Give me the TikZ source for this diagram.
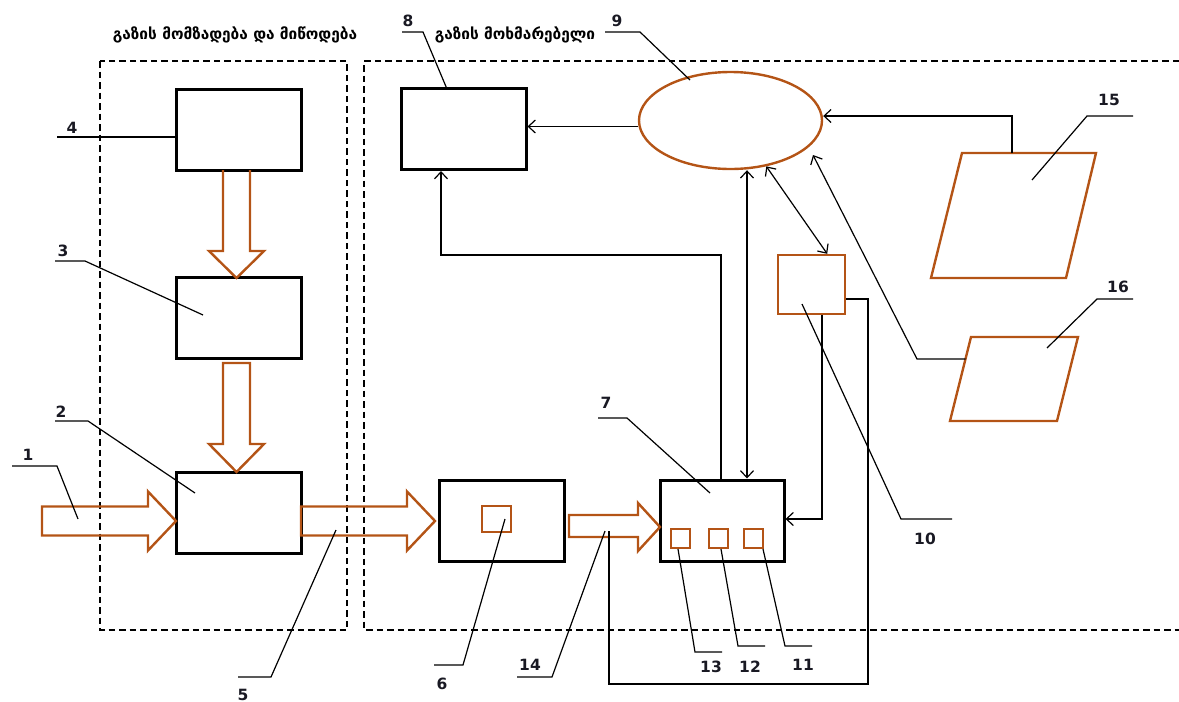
\documentclass[tikz,border=0pt]{standalone}
\usepackage{fontspec}
\setmainfont{DejaVu Sans}
\usetikzlibrary{arrows.meta,shapes.geometric,calc}
\definecolor{br}{RGB}{180,84,22}
\definecolor{ink}{RGB}{25,25,35}
\begin{document}
\begin{tikzpicture}[x=1pt,y=-1pt,
 blk/.style={draw,line width=3pt,inner sep=0,minimum width=125pt,minimum height=81pt},
 sqr/.style={draw=br,line width=2.4pt,inner sep=0,minimum size=19pt},
 con/.style={line width=1.2pt},
 arr/.style={con,-{Straight Barb[length=7pt,width=13pt]}},
 darr/.style={con,{Straight Barb[length=7pt,width=13pt]}-{Straight Barb[length=7pt,width=13pt]}},
 lead/.style={line width=1.2pt},
 num/.style={font=\bfseries\fontsize{15.5}{15.5}\selectfont,text=ink,inner sep=0},
 geo/.style={font=\bfseries\fontsize{15.4}{15.4}\selectfont,inner sep=0},
 bar/.style={draw=br,line width=2.4pt,line join=miter},
 zone/.style={draw,line width=1.5pt,dash pattern=on 6.5pt off 4pt}]
\useasboundingbox (0,0) rectangle (1179,702);

% zones
\draw[zone] (100,61) rectangle (347,630);
\draw[zone] (1179,61) -- (364,61) -- (364,630) -- (1179,630);
\node[geo] (z1) at (235,35) {გაზის მომზადება და მიწოდება};
\node[geo] (z2) at (515,35) {გაზის მოხმარებელი};

% boxes
\node[blk] (b4) at (238.5,129.5) {};
\node[blk] (b3) at (238.5,318) {};
\node[blk] (b2) at (238.5,512.5) {};
\node[blk] (b6) at (501.5,520.5) {};
\node[blk, minimum width=124pt] (b7) at (722,520.5) {};
\node[blk] (b8) at (463.5,129) {};
\node[draw=br,line width=2.4pt,ellipse,minimum width=183pt,minimum height=97pt,inner sep=0] (e9) at (730.5,120.5) {};
\node[draw=br,line width=2.4pt,inner sep=0,minimum width=67pt,minimum height=59pt] (b10) at (811.5,284.5) {};
\node[sqr,minimum width=29pt,minimum height=26pt] (s6) at (496.5,519) {};
\node[sqr] (s13) at (680.5,538.5) {};
\node[sqr] (s12) at (718.5,538.5) {};
\node[sqr] (s11) at (753.5,538.5) {};

% parallelograms
\draw[bar] (962,153) coordinate (p15a) -- (1096,153) -- (1066,278) -- (931,278) -- cycle;
\draw[bar] (971,337) coordinate (p16a) -- (1078,337) -- (1057,421) -- (950,421) coordinate (p16d) -- cycle;
\coordinate (p15t) at (1012,153);
\coordinate (p16l) at (965.5,359);

% block arrows
\draw[bar] (42,506.5) -- (148,506.5) -- (148,491.5) -- (176,521) -- (148,550.5) -- (148,535.5) -- (42,535.5) -- cycle;
\draw[bar] (301,506.5) -- (407,506.5) -- (407,491.5) -- (435,521) -- (407,550.5) -- (407,535.5) -- (301,535.5) -- cycle;
\draw[bar] (569,515) -- (638,515) -- (638,503) -- (660,527) -- (638,551) -- (638,537) -- (569,537) -- cycle;
\draw[bar] (223,170) -- (223,251) -- (209,251) -- (236.5,278) -- (264,251) -- (250,251) -- (250,170);
\draw[bar] (223,363) -- (223,444) -- (209,444) -- (236.5,472) -- (264,444) -- (250,444) -- (250,363) -- cycle;

% connectors
\draw[arr] ([yshift=-6pt]e9.west) -- ([yshift=-6pt]e9.west -| b8.east);
\coordinate (j1) at (721,255);
\coordinate (j2) at (441,255);
\draw[arr] (j1 |- b7.north) -- (j1) -- (j2) -- (j2 |- b8.south);
\coordinate (v) at (747,300);
\draw[darr] (v |- e9.south) -- (v |- b7.north);
\draw[darr] (e9.-52) -- ([xshift=-19pt]b10.north east);
\coordinate (k) at (822,519);
\draw[arr] (k |- b10.south) -- (k) -- (k -| b7.east);
\coordinate (r1) at (868,299);
\coordinate (r2) at (868,684);
\coordinate (r3) at (609,684);
\coordinate (r4) at (609,531);
\draw[con] (r1 -| b10.east) -- (r1) -- (r2) -- (r3) -- (r4);
\coordinate (q1) at (917,359);
\coordinate (a9) at (813,155);
\draw[arr] (p16l) -- (q1) -- (a9);
\coordinate (q2) at (1012,116);
\draw[arr] (p15t) -- (q2) -- (q2 -| e9.east);

% leaders and numbers
\draw[lead] (12,466) -- (57,466) -- (78,519);   \node[num] (n1) at (28,455) {1};
\draw[lead] (55,421) -- (88,421) -- (195,493);  \node[num] (n2) at (61,412) {2};
\draw[lead] (55,261) -- (85,261) -- (203,315);  \node[num] (n3) at (63,251) {3};
\draw[lead] (57,137) -- (b4.west |- 0,137);     \node[num] (n4) at (72,128) {4};
\draw[lead] (238,677) -- (271,677) -- (336,530); \node[num] (n5) at (243,695) {5};
\draw[lead] (434,665) -- (463,665) -- (505,519); \node[num] (n6) at (442,684) {6};
\draw[lead] (598,418) -- (627,418) -- (710,493); \node[num] (n7) at (606,403) {7};
\draw[lead] (402,32) -- (423,32) -- (447,89);   \node[num] (n8) at (408,21) {8};
\draw[lead] (605,32) -- (640,32) -- (690,80);   \node[num] (n9) at (617,21) {9};
\draw[lead] (952,519) -- (901,519) -- (802,304); \node[num] (n10) at (925,539) {10};
\draw[lead] (763,549) -- (785,646) -- (812,646); \node[num] (n11) at (803,665) {11};
\draw[lead] (721,549) -- (738,646) -- (765,646); \node[num] (n12) at (750,667) {12};
\draw[lead] (678,549) -- (695,652) -- (722,652); \node[num] (n13) at (711,667) {13};
\draw[lead] (517,677) -- (552,677) -- (605,531); \node[num] (n14) at (530,665) {14};
\draw[lead] (1133,116) -- (1087,116) -- (1032,180); \node[num] (n15) at (1109,100) {15};
\draw[lead] (1133,299) -- (1097,299) -- (1047,348); \node[num] (n16) at (1118,287) {16};
\end{tikzpicture}
\end{document}
